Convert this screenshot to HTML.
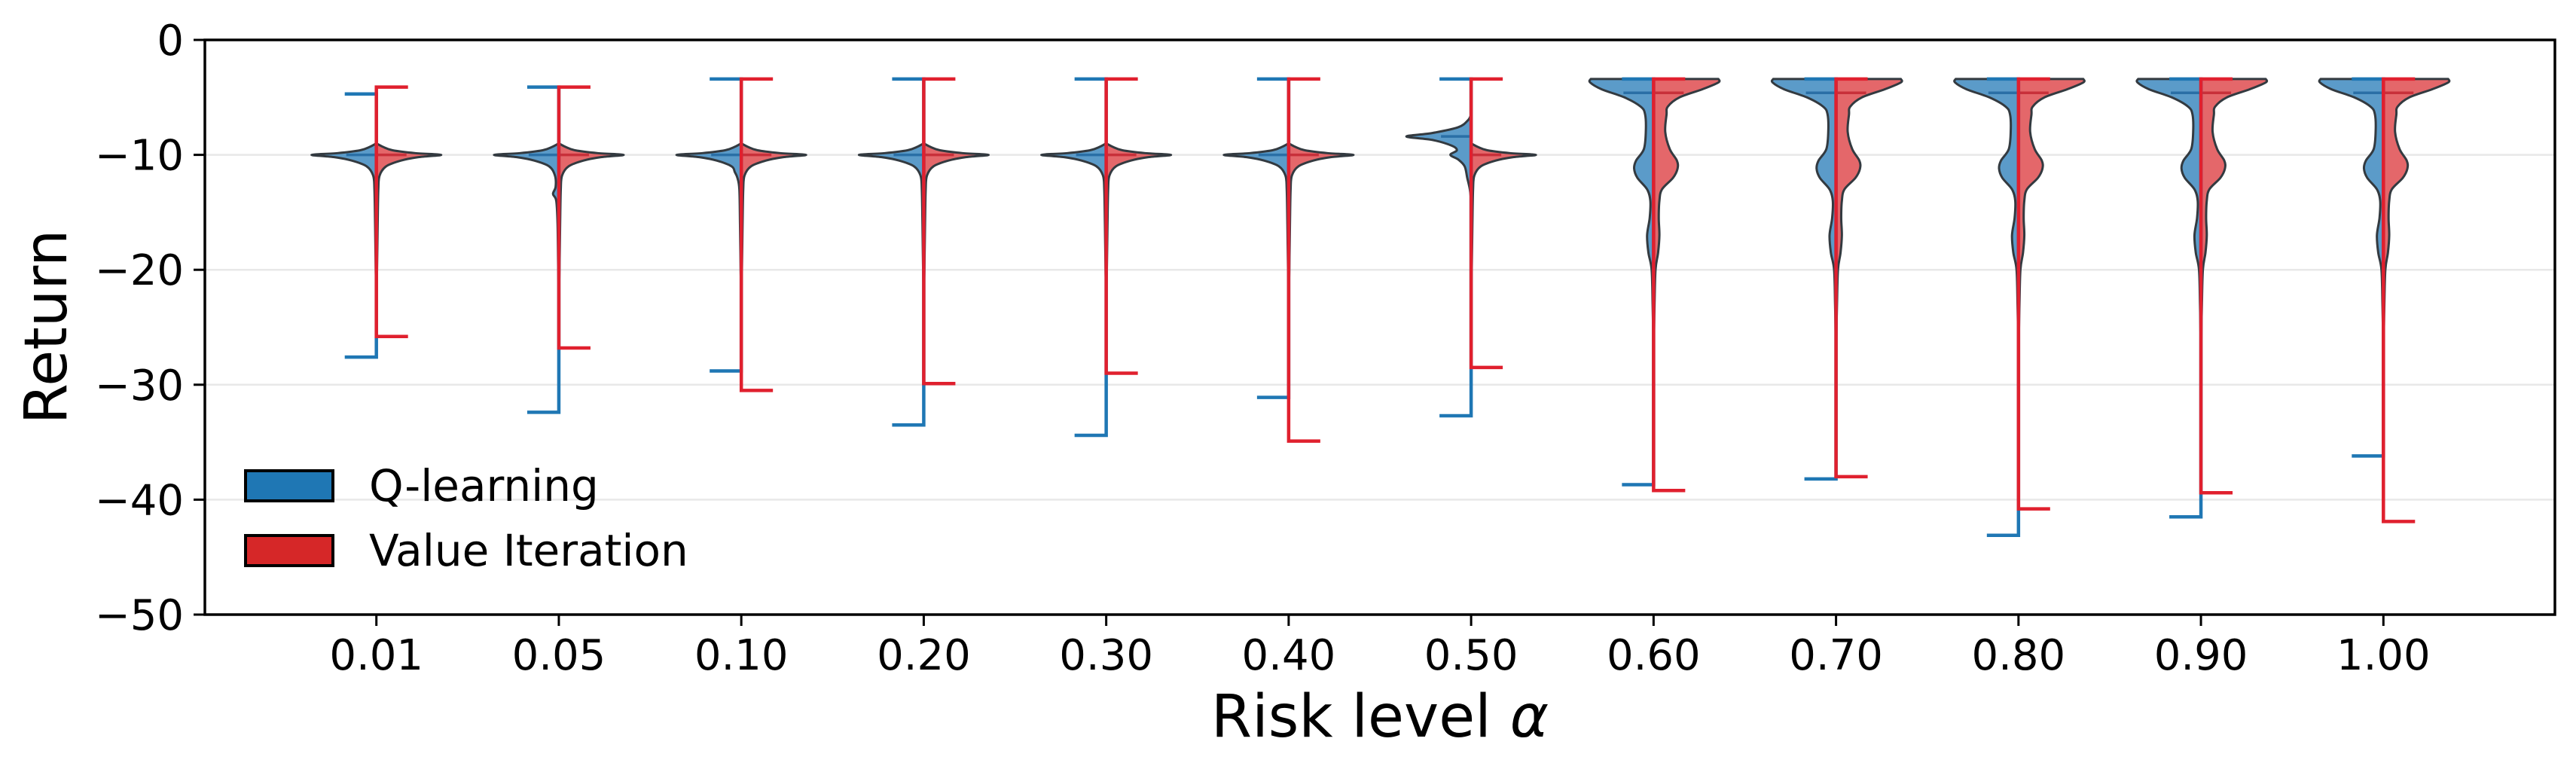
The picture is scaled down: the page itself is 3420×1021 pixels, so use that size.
<!DOCTYPE html>
<html><head><meta charset="utf-8"><style>
html,body{margin:0;padding:0;background:#fff;}
svg{display:block;font-family:"DejaVu Sans","Liberation Sans",sans-serif;}
</style></head><body>
<svg id="chart" width="3420" height="1021" viewBox="0 0 3420 1021" xmlns="http://www.w3.org/2000/svg">
<rect x="0" y="0" width="3420" height="1021" fill="#fff"/>
<g id="grid"></g>
<g id="violins"></g>
<g id="whiskers"></g>
<rect x="272" y="53" width="3120" height="763" fill="none" stroke="#000" stroke-width="3.5"/>
<g id="yticks"></g>
<g id="xticks"></g>
<text transform="translate(88,434) rotate(-90)" text-anchor="middle" font-size="78" fill="#000">Return</text>
<text x="1832" y="978" text-anchor="middle" font-size="78" fill="#000">Risk level <tspan font-style="italic">α</tspan></text>
<g>
<rect x="326" y="625" width="116" height="40" fill="#1f77b4" stroke="#000" stroke-width="4"/>
<text x="490" y="665" font-size="58" fill="#000">Q-learning</text>
<rect x="326" y="711" width="116" height="40" fill="#d62728" stroke="#000" stroke-width="4"/>
<text x="490" y="751" font-size="58" fill="#000">Value Iteration</text>
</g>
</svg>
<script>
const categories = ['0.01','0.05','0.10','0.20','0.30','0.40','0.50','0.60','0.70','0.80','0.90','1.00'];
const qMax = [-4.7,-4.1,-3.4,-3.4,-3.4,-3.4,-3.4,-3.4,-3.4,-3.4,-3.4,-3.4];
const qMin = [-27.6,-32.4,-28.8,-33.5,-34.4,-31.1,-32.7,-38.7,-38.2,-43.1,-41.5,-36.2];
const vMax = [-4.1,-4.1,-3.4,-3.4,-3.4,-3.4,-3.4,-3.4,-3.4,-3.4,-3.4,-3.4];
const vMin = [-25.8,-26.8,-30.5,-29.9,-29.0,-34.9,-28.5,-39.2,-38.0,-40.8,-39.4,-41.9];
const qMedian = [-10,-10,-10,-10,-10,-10,-8.4,-4.6,-4.6,-4.6,-4.6,-4.6];
const vMedian = [-10,-10,-10,-10,-10,-10,-10,-4.6,-4.6,-4.6,-4.6,-4.6];
const yTicks = [0,-10,-20,-30,-40,-50];
const gridValues = [-10,-20,-30,-40];
// density profiles: [return value, relative width]
const spikeQ = [[-9.0,0],[-9.3,0.1],[-9.6,0.25],[-9.85,0.6],[-10,1],[-10.2,0.65],[-10.5,0.38],[-11,0.15],[-11.8,0.05],[-13,0.03],[-16,0.02],[-20,0.01],[-22,0]];
const spikeQ05 = [[-9.0,0],[-9.3,0.1],[-9.6,0.25],[-9.85,0.6],[-10,1],[-10.2,0.65],[-10.5,0.38],[-11,0.15],[-11.8,0.06],[-12.8,0.05],[-13.4,0.09],[-14,0.04],[-16,0.02],[-20,0.01],[-22,0]];
const spikeQ10 = [[-9.0,0],[-9.3,0.1],[-9.6,0.25],[-9.85,0.6],[-10,1],[-10.2,0.65],[-10.5,0.38],[-11,0.15],[-11.5,0.1],[-12,0.06],[-13,0.03],[-16,0.02],[-20,0.01],[-22,0]];
const spikeV = [[-9.0,0],[-9.3,0.1],[-9.6,0.25],[-9.85,0.6],[-10,1],[-10.2,0.65],[-10.5,0.38],[-11,0.15],[-11.8,0.05],[-13,0.03],[-16,0.02],[-20,0.01],[-22,0]];
const bimodalQ50 = [[-6.5,0],[-7.0,0.05],[-7.6,0.2],[-8.1,0.6],[-8.4,1.0],[-8.7,0.6],[-9.2,0.3],[-9.6,0.22],[-10,0.32],[-10.4,0.2],[-11,0.1],[-12,0.06],[-13,0.02],[-14,0]];
const wideQ = [[-3.4,0.97],[-3.7,0.98],[-4.3,0.8],[-5.0,0.45],[-5.8,0.2],[-6.5,0.13],[-8,0.12],[-9.5,0.15],[-10.5,0.27],[-11.2,0.3],[-12,0.25],[-13,0.1],[-14,0.05],[-15.5,0.06],[-17,0.1],[-18.5,0.08],[-20,0.03],[-23,0.015],[-26,0.005],[-28,0]];
const wideV = [[-3.4,1.0],[-3.7,1.0],[-4.3,0.75],[-5.0,0.4],[-5.8,0.22],[-6.5,0.2],[-8,0.18],[-9.5,0.25],[-10.5,0.36],[-11.2,0.37],[-12,0.3],[-13,0.13],[-14,0.09],[-15.5,0.08],[-17,0.09],[-18.5,0.07],[-20,0.03],[-23,0.015],[-26,0.005],[-28,0]];
const qDensity = [spikeQ,spikeQ05,spikeQ10,spikeQ,spikeQ,spikeQ,bimodalQ50,wideQ,wideQ,wideQ,wideQ,wideQ];
const vDensity = [spikeV,spikeV,spikeV,spikeV,spikeV,spikeV,spikeV,wideV,wideV,wideV,wideV,wideV];

const NS='http://www.w3.org/2000/svg';
const X0=272, X1=3392, Y0=53, Y1=816;
const xMin=-0.94, xMax=11.94, yMinV=-50, yMaxV=0;
function xs(i){return X0+(i-xMin)/(xMax-xMin)*(X1-X0);}
function ys(v){return Y0+(yMaxV-v)/(yMaxV-yMinV)*(Y1-Y0);}
const HALF=86, CAP=42;
function mk(tag,attrs,parent){const e=document.createElementNS(NS,tag);for(const k in attrs)e.setAttribute(k,attrs[k]);parent.appendChild(e);return e;}

const grid=document.getElementById('grid');
gridValues.forEach(v=>{
  const l=mk('line',{x1:X0,x2:X1,y1:ys(v),y2:ys(v),stroke:'#e8e8e8','stroke-width':2.5},grid);
  
  
});
const yt=document.getElementById('yticks');
yTicks.forEach(v=>{
  const l=mk('line',{x1:X0-15,x2:X0,y1:ys(v),y2:ys(v),stroke:'#000','stroke-width':3},yt);
  
  
  const t=mk('text',{x:X0-28,y:ys(v)+20,'text-anchor':'end','font-size':56,fill:'#000'},yt);
  t.textContent=(v<0?'\u2212'+(-v):String(v));
  
  
});
const xt=document.getElementById('xticks');
categories.forEach((c,i)=>{
  const l=mk('line',{x1:xs(i),x2:xs(i),y1:Y1,y2:Y1+15,stroke:'#000','stroke-width':3},xt);
  
  
  const t=mk('text',{x:xs(i),y:889,'text-anchor':'middle','font-size':56,fill:'#000'},xt);
  t.textContent=c;
  
  
});

function halfPath(cx,prof,dir){
  const pts=prof.map(p=>[cx+dir*p[1]*HALF,ys(p[0])]);
  let d='M'+cx+','+pts[0][1]+' L'+pts[0][0]+','+pts[0][1];
  for(let k=0;k<pts.length-1;k++){
    const p0=pts[Math.max(0,k-1)],p1=pts[k],p2=pts[k+1],p3=pts[Math.min(pts.length-1,k+2)];
    const c1=[p1[0]+(p2[0]-p0[0])/6,p1[1]+(p2[1]-p0[1])/6];
    const c2=[p2[0]-(p3[0]-p1[0])/6,p2[1]-(p3[1]-p1[1])/6];
    d+=' C'+c1[0]+','+c1[1]+' '+c2[0]+','+c2[1]+' '+p2[0]+','+p2[1];
  }
  d+=' L'+cx+','+pts[pts.length-1][1]+' Z';
  return d;
}
const vg=document.getElementById('violins');
const wg=document.getElementById('whiskers');
categories.forEach((c,i)=>{
  const cx=xs(i);
  const pq=mk('path',{d:halfPath(cx,qDensity[i],-1),fill:'#5b9bc9',stroke:'#333a40','stroke-width':3,'stroke-linejoin':'round'},vg);
  
  
  const pv=mk('path',{d:halfPath(cx,vDensity[i],1),fill:'#e4676a',stroke:'#333a40','stroke-width':3,'stroke-linejoin':'round'},vg);
  
  
  const mq=mk('line',{x1:cx-40,x2:cx,y1:ys(qMedian[i]),y2:ys(qMedian[i]),stroke:'#2a6fa6','stroke-width':3.5},wg);
  
  
  const mv=mk('line',{x1:cx,x2:cx+40,y1:ys(vMedian[i]),y2:ys(vMedian[i]),stroke:'#c8303a','stroke-width':3.5},wg);
  
  
  const wq=mk('path',{d:'M'+(cx-CAP)+','+ys(qMax[i])+' H'+cx+' V'+ys(qMin[i])+' H'+(cx-CAP),fill:'none',stroke:'#1f77b4','stroke-width':4.5},wg);
  
  
  const wv=mk('path',{d:'M'+(cx+CAP)+','+ys(vMax[i])+' H'+cx+' V'+ys(vMin[i])+' H'+(cx+CAP),fill:'none',stroke:'#e0202e','stroke-width':4.5},wg);
  
  
});
</script>
</body></html>
